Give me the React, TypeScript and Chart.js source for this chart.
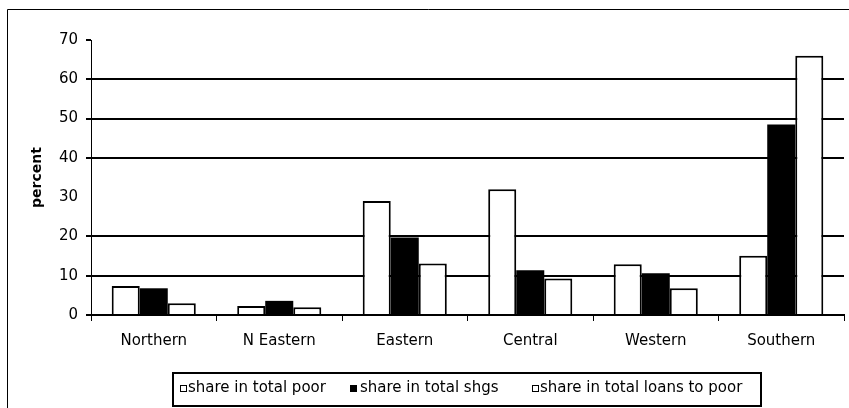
import { useEffect, useRef } from "react";
import { Chart, registerables } from "chart.js";

Chart.register(...registerables);

const categories = ["Northern", "N Eastern", "Eastern", "Central", "Western", "Southern"];
const sharePoor = [7.4, 2.3, 29.0, 32.0, 12.9, 15.1];
const shareShgs = [6.8, 3.6, 19.7, 11.4, 10.6, 48.5];
const shareLoans = [3.0, 2.0, 13.1, 9.3, 6.8, 66.0];
const seriesLabels = ["share in total poor", "share in total shgs", "share in total loans to poor"];
const seriesFills = ["#ffffff", "#000000", "#ffffff"];
const yMin = 0;
const yMax = 70;
const yStep = 10;
const hiddenGridValues = [0, 30, 70];
const hiddenTickValues = [30];

const FONT = "'DejaVu Sans', sans-serif";

const framePlugin = {
  id: "frameAndLegend",
  afterDraw(chart: any) {
    const ctx = chart.ctx as CanvasRenderingContext2D;
    ctx.save();
    // outer frame
    ctx.strokeStyle = "#000";
    ctx.lineWidth = 1;
    ctx.beginPath();
    ctx.moveTo(7.5, 408);
    ctx.lineTo(7.5, 9.5);
    ctx.lineTo(849, 9.5);
    ctx.stroke();

    // legend box
    ctx.lineWidth = 2;
    ctx.strokeRect(173, 373, 588, 33);

    const boxX = [180, 350, 532];
    const textX = [188, 360, 540];
    const baseY = 392;
    ctx.font = `15px ${FONT}`;
    ctx.textBaseline = "alphabetic";
    ctx.textAlign = "left";
    chart.data.datasets.forEach((ds: any, i: number) => {
      ctx.fillStyle = ds.backgroundColor;
      ctx.fillRect(boxX[i], 385, 7, 7);
      ctx.lineWidth = 1;
      ctx.strokeStyle = "#000";
      ctx.strokeRect(boxX[i] + 0.5, 385.5, 6, 6);
      ctx.fillStyle = "#000";
      ctx.fillText(ds.label, textX[i], baseY);
    });
    ctx.restore();
  },
};

export default function App() {
  const canvasRef = useRef<HTMLCanvasElement | null>(null);

  useEffect(() => {
    if (!canvasRef.current) return;
    const chart = new Chart(canvasRef.current, {
      type: "bar",
      data: {
        labels: categories,
        datasets: [sharePoor, shareShgs, shareLoans].map((values, i) => ({
          label: seriesLabels[i],
          data: values,
          backgroundColor: seriesFills[i],
          borderColor: "#000000",
          borderWidth: i === 1 ? 0 : 2,
          categoryPercentage: 0.67,
          barPercentage: 1,
        })),
      },
      options: {
        animation: false,
        responsive: false,
        devicePixelRatio: 1,
        layout: { padding: { left: 0, top: 40, right: 5, bottom: 0 } },
        plugins: {
          legend: { display: false },
          tooltip: { enabled: false },
        },
        scales: {
          x: {
            type: "category",
            offset: true,
            grid: {
              offset: true,
              drawOnChartArea: false,
              drawTicks: true,
              tickLength: 6,
              color: "#000",
              lineWidth: 1,
            },
            border: { display: true, color: "#000", width: 2 },
            ticks: {
              color: "#000",
              font: { family: FONT, size: 15 },
              padding: 11,
              maxRotation: 0,
              autoSkip: false,
            },
            afterFit: (s: any) => {
              s.height = 93;
            },
          },
          y: {
            min: yMin,
            max: yMax,
            ticks: {
              stepSize: yStep,
              color: "#000",
              font: { family: FONT, size: 15 },
              padding: 8,
            },
            grid: {
              color: (c: any) =>
                c.tick && hiddenGridValues.includes(c.tick.value) ? "rgba(0,0,0,0)" : "#000",
              tickColor: (c: any) =>
                c.tick && hiddenTickValues.includes(c.tick.value) ? "rgba(0,0,0,0)" : "#000",
              lineWidth: 2,
              tickLength: 5,
            },
            border: { display: true, color: "#000", width: 1 },
            title: {
              display: true,
              text: "percent",
              color: "#000",
              font: { family: FONT, size: 14, weight: "bold" },
              padding: { top: 29, bottom: 0 },
            },
            afterFit: (s: any) => {
              s.width = 91;
            },
          },
        },
      },
      plugins: [framePlugin],
    });
    return () => chart.destroy();
  }, []);

  return (
    <div style={{ position: "absolute", left: 0, top: 0, width: 849, height: 408, background: "#fff" }}>
      <canvas ref={canvasRef} width={849} height={408} style={{ display: "block" }} />
    </div>
  );
}
